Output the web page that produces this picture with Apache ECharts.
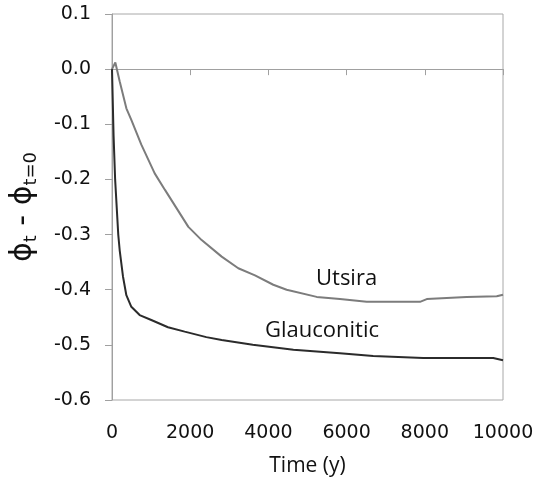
<!DOCTYPE html>
<html>
  <head>
    <meta charset="utf-8" />
    <title>Porosity change</title>
    <script src="https://cdn.jsdelivr.net/npm/echarts@6/dist/echarts.min.js"></script>
	<style>
	    body {
		    margin: 0;
			background: #ffffff;
		}
	</style>
  </head>
<body>
  <div id="chart" style="width: 540px;height:484px;"></div>

  <script type="text/javascript">
// time in years, porosity change
var utsiraTime = [0, 85, 196, 367, 494, 750, 1092, 1355, 1953, 2293, 2805, 3230, 3657, 4125, 4467, 5235, 5830, 6513, 7877, 8050, 9070, 9840, 10000];
var utsiraPhi = [0, 0.012, -0.022, -0.071, -0.092, -0.137, -0.189, -0.219, -0.286, -0.310, -0.340, -0.361, -0.374, -0.391, -0.400, -0.413, -0.417, -0.422, -0.422, -0.417, -0.413, -0.412, -0.409];

var glaucTime = [0, 40, 80, 160, 196, 281, 367, 494, 707, 1005, 1432, 1859, 2412, 2805, 3600, 4640, 5830, 6680, 7960, 9750, 10000];
var glaucPhi = [0, -0.12, -0.20, -0.30, -0.328, -0.376, -0.410, -0.431, -0.446, -0.455, -0.468, -0.476, -0.486, -0.491, -0.500, -0.509, -0.515, -0.520, -0.524, -0.524, -0.528];

var xTicks = [0, 2000, 4000, 6000, 8000, 10000];
var yTicks = [-0.6, -0.5, -0.4, -0.3, -0.2, -0.1, 0.0, 0.1];

function pairs(xs, ys) {
  return xs.map(function (x, i) { return [x, ys[i]]; });
}

var chart = echarts.init(document.getElementById('chart'));
var option = {
  backgroundColor: '#ffffff',
  animation: false,
  grid: {
    left: 112,
    right: 37,
    top: 14,
    bottom: 84,
    show: true,
    borderColor: '#a8a8a8',
    borderWidth: 1
  },
  xAxis: {
    type: 'value',
    min: xTicks[0],
    max: xTicks[xTicks.length - 1],
    interval: 2000,
    name: 'Time (y)',
    nameLocation: 'middle',
    nameGap: 56,
    nameTextStyle: { fontFamily: 'Open Sans', fontSize: 21, color: '#111' },
    axisLine: { lineStyle: { color: '#a0a0a0', width: 1 } },
    axisTick: { inside: false, length: 6, lineStyle: { color: '#a0a0a0' } },
    splitLine: { show: false },
    axisLabel: {
      margin: 24,
      fontFamily: 'DejaVu Sans',
      fontSize: 19,
      color: '#111',
      formatter: function (v) { return String(v); }
    }
  },
  yAxis: {
    type: 'value',
    min: yTicks[0],
    max: yTicks[yTicks.length - 1],
    interval: 0.1,
    name: '{p|ϕ}{s|t}{p| - ϕ}{s|t=0}',
    nameLocation: 'middle',
    nameGap: 72,
    nameRotate: 90,
    nameTextStyle: {
      color: '#111',
      rich: {
        p: { fontFamily: 'DejaVu Sans', fontSize: 30, color: '#111', lineHeight: 34 },
        s: { fontFamily: 'DejaVu Sans', fontSize: 18, color: '#111', verticalAlign: 'bottom', lineHeight: 26 }
      }
    },
    axisLine: { lineStyle: { color: '#a0a0a0', width: 1 } },
    axisTick: { show: true, inside: false, length: 7, lineStyle: { color: '#a0a0a0' } },
    splitLine: { show: false },
    axisLabel: {
      margin: 21,
      fontFamily: 'DejaVu Sans',
      fontSize: 19,
      color: '#111',
      formatter: function (v) { return v.toFixed(1); }
    }
  },
  graphic: [
    { type: 'text', left: 316, top: 268, style: { text: 'Utsira', font: '22px "Open Sans"', fill: '#111' } },
    { type: 'text', left: 265, top: 320, style: { text: 'Glauconitic', font: '22px "Open Sans"', fill: '#111' } }
  ],
  series: [
    {
      name: 'Utsira',
      type: 'line',
      data: pairs(utsiraTime, utsiraPhi),
      symbol: 'none',
      lineStyle: { color: '#7c7c7c', width: 2 }
    },
    {
      name: 'Glauconitic',
      type: 'line',
      data: pairs(glaucTime, glaucPhi),
      symbol: 'none',
      lineStyle: { color: '#2b2b2b', width: 2 }
    }
  ]
};
chart.setOption(option);
</script>
</body>
</html>
